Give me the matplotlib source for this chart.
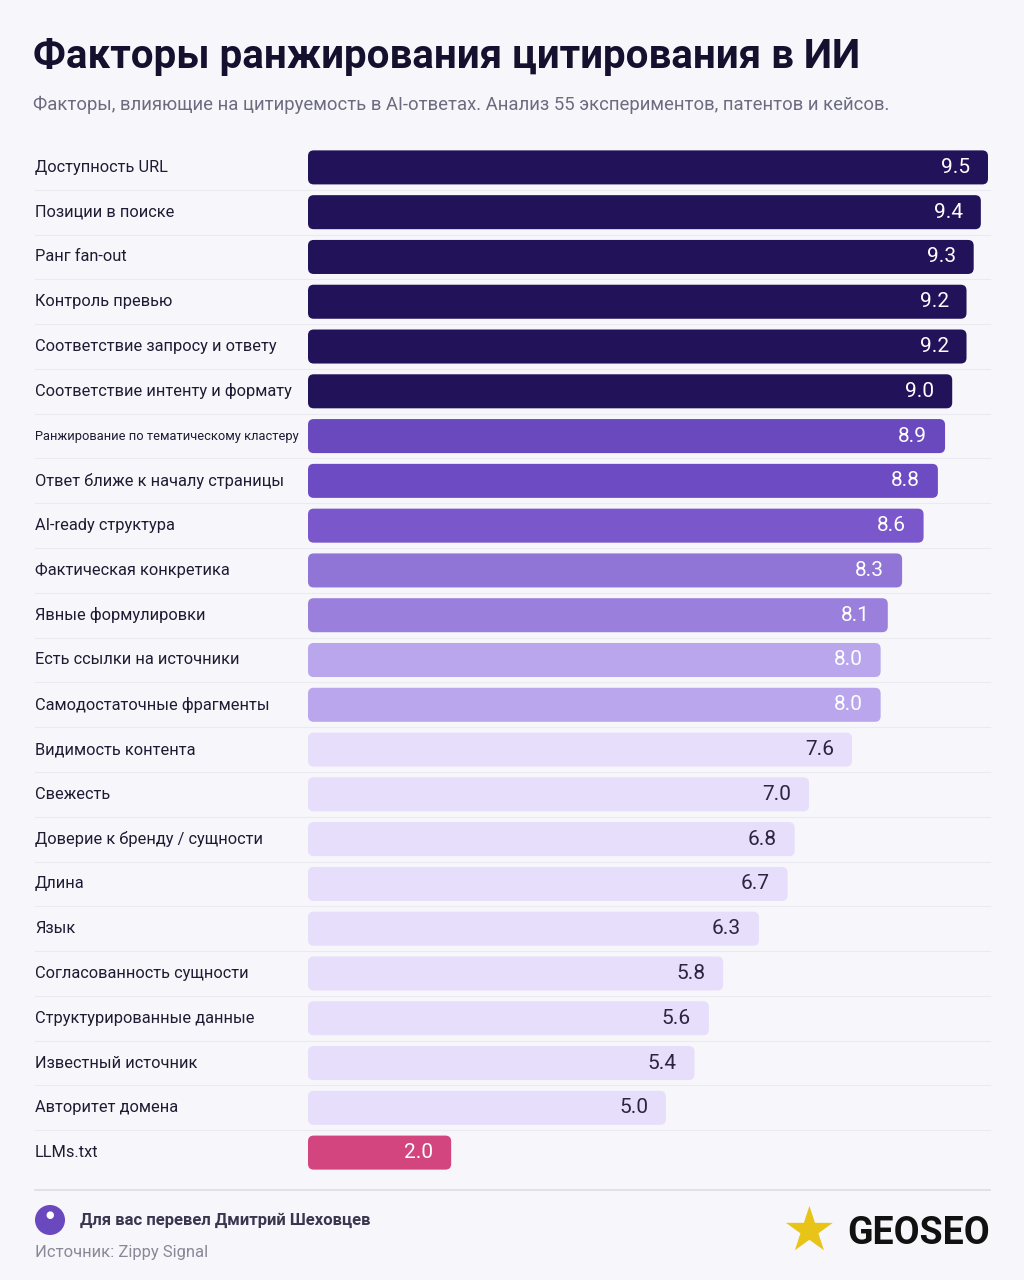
import matplotlib
matplotlib.use("Agg")
import matplotlib.pyplot as plt
from matplotlib.patches import FancyBboxPatch, Ellipse
import numpy as np

plt.rcParams['font.family'] = ['Roboto', 'DejaVu Sans']

labels = ["Доступность URL", "Позиции в поиске", "Ранг fan-out", "Контроль превью",
          "Соответствие запросу и ответу", "Соответствие интенту и формату",
          "Ранжирование по тематическому кластеру", "Ответ ближе к началу страницы",
          "AI-ready структура", "Фактическая конкретика", "Явные формулировки",
          "Есть ссылки на источники", "Самодостаточные фрагменты", "Видимость контента",
          "Свежесть", "Доверие к бренду / сущности", "Длина", "Язык",
          "Согласованность сущности", "Структурированные данные", "Известный источник",
          "Авторитет домена", "LLMs.txt"]
values = [9.5, 9.4, 9.3, 9.2, 9.2, 9.0, 8.9, 8.8, 8.6, 8.3, 8.1, 8.0, 8.0,
          7.6, 7.0, 6.8, 6.7, 6.3, 5.8, 5.6, 5.4, 5.0, 2.0]
colors = ["#22125a"]*6 + ["#6a48be", "#6d4bc2", "#7a58cc", "#9075d6", "#9a80dc",
          "#b9a6ec", "#b9a6ec"] + ["#e7defb"]*9 + ["#d2457f"]
text_colors = ["white"]*13 + ["#2a2540"]*9 + ["white"]

W, H = 1024, 1280
fig = plt.figure(figsize=(W/100, H/100), dpi=100, facecolor="#f7f7fb")

def fx(x): return x/W
def fy(y): return 1 - y/H

fig.text(fx(33), fy(57), "Факторы ранжирования цитирования в ИИ", fontsize=29,
         fontweight="bold", color="#15102e", va="center")
fig.text(fx(33), fy(105), "Факторы, влияющие на цитируемость в AI-ответах. Анализ 55 экспериментов, патентов и кейсов.",
         fontsize=13.3, color="#6d6b80", va="center")

top, bottom = 145, 1175
n = len(values)
for i in range(n - 1):
    y_pix = top + (i + 1) / n * (bottom - top)
    fig.add_artist(plt.Line2D([fx(35), fx(990)], [fy(y_pix)]*2, color="#eaeaf0", lw=0.8, zorder=0))

ax = fig.add_axes([fx(308), fy(bottom), fx(1000)-fx(308), (bottom-top)/H])
ax.set_zorder(2)
ax.set_facecolor("none")
ax.set_xlim(0, 9.5 / (680/692))
ax.set_ylim(n - 0.5, -0.5)
ax.axis("off")
bh = 0.76
for i, (v, c, tc) in enumerate(zip(values, colors, text_colors)):
    ax.add_patch(FancyBboxPatch((0, i - bh/2), v, bh,
                 boxstyle="round,pad=0,rounding_size=0.08", mutation_aspect=1/(9.65/23*1030/692),
                 fc=c, ec="none"))
    ax.text(v - 0.25, i, f"{v:.1f}", ha="right", va="center", color=tc, fontsize=15)
    fig.text(fx(35), fy(top + (i + 0.5) * (bottom - top) / n), labels[i],
             fontsize=9.3 if i == 6 else 11.8, color="#1f1b33", va="center")

fig.add_artist(plt.Line2D([fx(35), fx(990)], [fy(1190)]*2, color="#dcdce4", lw=1.2))
fig.add_artist(Ellipse((fx(50), fy(1220)), 30/W, 30/H, transform=fig.transFigure, fc="#6a48be", ec="none"))
fig.text(fx(50), fy(1220), "●", fontsize=7, color="white", ha="center", va="bottom",
         family=["DejaVu Sans"])
fig.text(fx(80), fy(1220), "Для вас перевел Дмитрий Шеховцев", fontsize=12,
         fontweight="bold", color="#3a3650", va="center")
fig.text(fx(35), fy(1253), "Источник: Zippy Signal", fontsize=12, color="#8a8898", va="center")
fig.text(fx(808), fy(1233), "★", fontsize=44, color="#e8c419", ha="center", va="center",
         family=["DejaVu Sans"])
fig.text(fx(990), fy(1233), "GEOSEO", fontsize=27, fontweight="bold", color="#111111",
         ha="right", va="center")

fig.savefig("out.png", dpi=100, facecolor=fig.get_facecolor())
